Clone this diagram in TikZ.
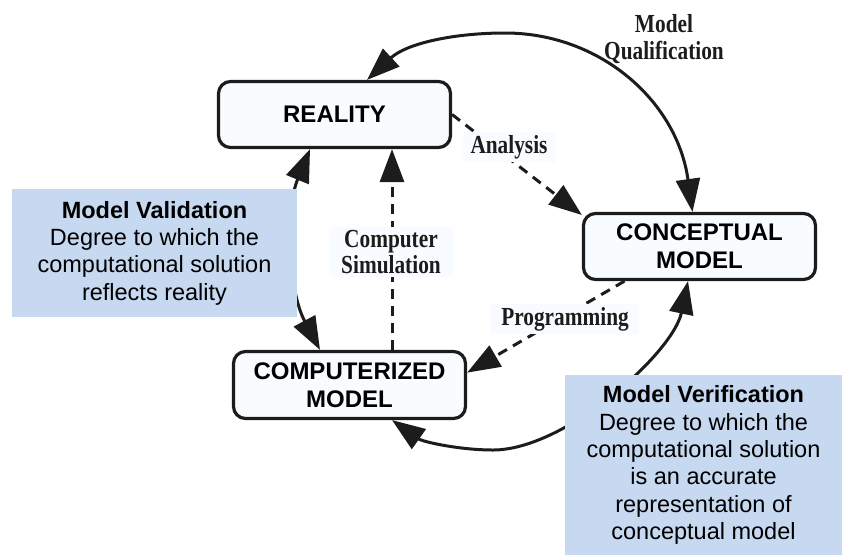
\documentclass[tikz,border=0pt]{standalone}
\usepackage{fontspec}
\setmainfont{Liberation Sans}
\newfontfamily\lblfont[FakeStretch=0.82]{Liberation Serif}
\usetikzlibrary{arrows.meta,calc}
\definecolor{calloutblue}{RGB}{198,217,240}
\definecolor{boxfill}{RGB}{248,252,255}
\definecolor{lblfill}{RGB}{248,251,255}
\definecolor{ink}{RGB}{28,28,28}
\begin{document}
\begin{tikzpicture}[x=1pt,y=-1pt,
  mbox/.style={draw=ink, line width=3.2pt, rounded corners=12pt, fill=boxfill,
    minimum width=232pt, minimum height=66pt, inner sep=0pt, align=center,
    font=\fontsize{24}{28}\selectfont\bfseries},
  callout/.style={fill=calloutblue, inner sep=0pt, align=center,
    font=\fontsize{23.5}{27.3}\selectfont},
  lbl/.style={font=\lblfont\bfseries\fontsize{26}{26.5}\selectfont, text=ink, align=center, inner sep=3pt},
  lblbg/.style={lbl, fill=lblfill},
  tipA/.tip={Triangle[length=33pt,width=24pt]},
  arc/.style={draw=ink, line width=3pt, tipA-tipA},
  dsh/.style={draw=ink, line width=3pt, dash pattern=on 10pt off 7pt, -tipA}
]
\useasboundingbox (0,0) rectangle (842,555);

% main boxes
\node[mbox] (real) at (334.5,114.5) {REALITY};
\node[mbox] (conc) at (699.5,246.5) {CONCEPTUAL\\MODEL};
\node[mbox, minimum height=67pt] (comp) at (349.5,385) {COMPUTERIZED\\MODEL};

% model qualification arc
\draw[arc] ([xshift=32.5pt]real.north) .. controls (407,43) and (455,33) .. (505,33)
  .. controls (600,33) and (677,101) .. ([xshift=-7pt]conc.north);

% model validation arc
\draw[arc] ([xshift=-24.5pt]real.south) .. controls (285,210) and (288,290) .. ([xshift=-29.5pt]comp.north);

% model verification arc
\draw[arc] ([xshift=42.5pt]comp.south) .. controls (423,442) and (460,450) .. (493,450)
  .. controls (565,450) and (673,353) .. ([xshift=-11.5pt]conc.south);

% dashed process arrows
\draw[dsh] (real.east) -- (conc.165);
\draw[dsh] ([xshift=-75pt]conc.south) -- (comp.6);
\draw[dsh] ([xshift=42.5pt]comp.north) -- ([xshift=57.5pt]real.south);

% arrow labels
\node[lblbg, inner xsep=8pt] (anl) at (509,147) {Analysis};
\node[lblbg, inner xsep=12pt] (sim) at (391,252) {Computer\\Simulation};
\node[lblbg, inner xsep=10pt] (prg) at (565,319) {Programming};
\node[lbl] (qual) at (664,39) {Model\\Qualification};

% callouts
\node[callout, minimum width=285pt, minimum height=128pt] (val) at (154.5,253)
  {\textbf{Model Validation}\\Degree to which the\\computational solution\\reflects reality};
\node[callout, minimum width=277pt, minimum height=180pt] (ver) at (703.5,465)
  {\textbf{Model Verification}\\Degree to which the\\computational solution\\is an accurate\\representation of\\conceptual model};
\end{tikzpicture}
\end{document}
